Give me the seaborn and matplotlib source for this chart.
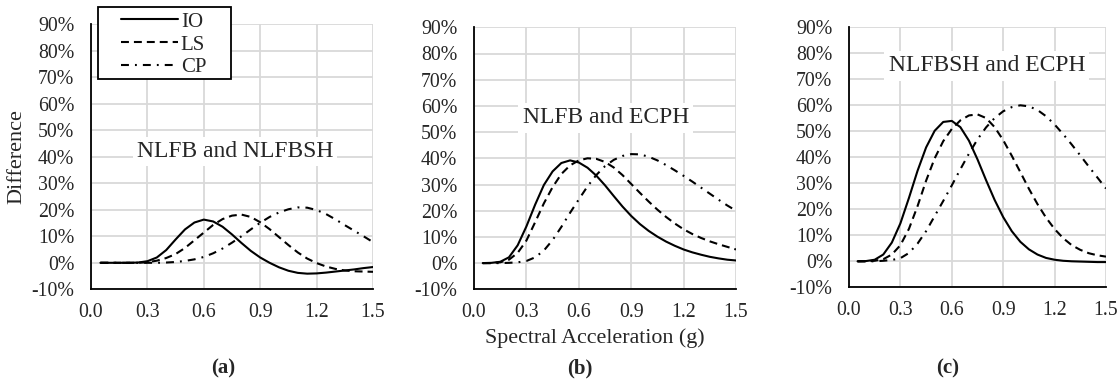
import numpy as np
import pandas as pd
import matplotlib
matplotlib.use("Agg")
import matplotlib.pyplot as plt
from matplotlib.ticker import MultipleLocator, FuncFormatter
from matplotlib.lines import Line2D
from matplotlib.patches import Rectangle
import seaborn as sns

sns.set_style("white")
plt.rcParams['font.family'] = ['Liberation Serif', 'DejaVu Serif']

# Spectral acceleration (g)
sa = [0.05, 0.10, 0.15, 0.20, 0.25, 0.30, 0.35, 0.40, 0.45, 0.50,
      0.55, 0.60, 0.65, 0.70, 0.75, 0.80, 0.85, 0.90, 0.95, 1.00,
      1.05, 1.10, 1.15, 1.20, 1.25, 1.30, 1.35, 1.40, 1.45, 1.50]

levels = ["IO", "LS", "CP"]

# (a) NLFB and NLFBSH  (difference in %)
a_io = [0, 0, 0, 0, 0.1, 0.6, 2.0, 4.8, 8.8, 12.6,
        15.2, 16.3, 15.6, 13.6, 10.7, 7.5, 4.5, 2.0, 0.0, -1.7,
        -3.0, -3.8, -4.1, -4.0, -3.7, -3.3, -2.9, -2.5, -2.0, -1.6]
a_ls = [0, 0, 0, 0, 0, 0.2, 0.8, 1.8, 3.3, 5.6,
        8.5, 11.4, 14.3, 16.5, 17.8, 18.2, 17.3, 15.3, 12.7, 9.7,
        6.7, 3.9, 1.6, -0.1, -1.4, -2.3, -2.9, -3.2, -3.3, -3.4]
a_cp = [0, 0, 0, 0, 0, 0, 0, 0.1, 0.3, 0.7,
        1.3, 2.2, 3.6, 5.4, 7.6, 10.0, 12.6, 15.1, 17.3, 19.0,
        20.2, 20.9, 20.8, 19.9, 18.4, 16.4, 14.2, 12.1, 10.0, 7.8]

# (b) NLFB and ECPH
b_io = [0, 0.1, 0.5, 2.2, 6.8, 14.0, 22.3, 29.8, 35.0, 38.2,
        39.2, 38.4, 36.4, 33.4, 29.7, 25.6, 21.6, 18.0, 14.9, 12.3,
        10.1, 8.2, 6.6, 5.2, 4.1, 3.2, 2.4, 1.8, 1.3, 1.0]
b_ls = [0, 0, 0.3, 1.3, 3.9, 8.6, 15.6, 22.8, 29.0, 34.0,
        37.3, 39.2, 40.0, 39.8, 38.6, 36.5, 33.6, 30.2, 26.8, 23.5,
        20.4, 17.6, 15.1, 12.9, 11.1, 9.6, 8.3, 7.2, 6.2, 5.2]
b_cp = [0, 0, 0, 0.1, 0.3, 0.8, 2.2, 4.8, 8.8, 13.8,
        19.2, 24.3, 29.3, 33.6, 37.0, 39.4, 40.9, 41.6, 41.5, 40.6,
        39.2, 37.4, 35.4, 33.3, 31.1, 28.8, 26.5, 24.2, 22.0, 20.0]

# (c) NLFBSH and ECPH
c_io = [0, 0.1, 0.6, 2.6, 7.2, 14.6, 24.4, 34.8, 43.8, 50.2,
        53.6, 54.0, 51.6, 46.4, 39.2, 31.2, 23.6, 17.0, 11.6, 7.5,
        4.6, 2.6, 1.3, 0.6, 0.2, 0.0, -0.1, -0.2, -0.3, -0.3]
c_ls = [0, 0, 0.2, 0.8, 2.6, 6.2, 12.5, 21.2, 31.0, 39.6,
        46.2, 50.9, 54.2, 56.1, 56.5, 55.1, 51.6, 46.6, 40.6, 34.3,
        27.9, 22.0, 16.8, 12.4, 8.9, 6.2, 4.4, 3.1, 2.3, 1.8]
c_cp = [0, 0, 0, 0.2, 0.5, 1.2, 3.2, 6.8, 11.6, 17.4,
        23.2, 29.2, 35.4, 41.4, 46.9, 51.5, 55.1, 57.7, 59.3, 60.0,
        59.6, 58.2, 55.8, 52.6, 48.9, 44.9, 40.7, 36.4, 32.2, 28.0]

titles = ["NLFB and NLFBSH", "NLFB and ECPH", "NLFBSH and ECPH"]
panel_labels = ["(a)", "(b)", "(c)"]
panels = [(a_io, a_ls, a_cp), (b_io, b_ls, b_cp), (c_io, c_ls, c_cp)]


def make_df(series):
    rows = []
    for lev, vals in zip(levels, series):
        for x, v in zip(sa, vals):
            rows.append({"Sa": x, "Diff": v / 100.0, "Level": lev})
    return pd.DataFrame(rows)


W, H = 1119, 384
fig = plt.figure(figsize=(W / 100, H / 100), dpi=100)

# axes boxes in pixels: left, right, top, bottom
boxes = [(91, 373, 24.3, 289.3), (474, 736, 27.3, 289.3), (849, 1106, 27.3, 287.3)]
title_pos = [(0.766, 0.42), (0.755, 0.554), (0.804, 0.752)]
label_x = [223, 580, 948]

LW = 1.5
dash_ls = (3.8, 2.4)
dash_cp = (3.8, 2.9, 0.9, 2.9)
dashes = {"IO": "", "LS": dash_ls, "CP": dash_cp}

axes = []
for i, (l, r, t, b) in enumerate(boxes):
    ax = fig.add_axes([l / W, (H - b) / H, (r - l) / W, (b - t) / H])
    axes.append(ax)
    df = make_df(panels[i])
    sns.lineplot(data=df, x="Sa", y="Diff", style="Level", style_order=levels,
                 dashes=dashes, color="black", linewidth=LW, ax=ax,
                 legend=False, sort=False)
    ax.set_xlim(0, 1.5)
    ax.set_ylim(-0.1, 0.9)
    ax.xaxis.set_major_locator(MultipleLocator(0.3))
    ax.xaxis.set_minor_locator(MultipleLocator(0.1))
    ax.yaxis.set_major_locator(MultipleLocator(0.1))
    ax.xaxis.set_major_formatter(FuncFormatter(lambda v, p: f"{v:.1f}"))
    ax.yaxis.set_major_formatter(FuncFormatter(lambda v, p: f"{round(v*100):d}%"))
    ax.grid(True, which="major", color="#d9d9d9", linewidth=1.3)
    ax.set_axisbelow(True)
    for s in ["top", "right"]:
        ax.spines[s].set_visible(False)
    for s in ["left", "bottom"]:
        ax.spines[s].set_color("black")
        ax.spines[s].set_linewidth(1.3)
    ax.tick_params(axis="x", which="both", direction="in", length=4, width=1.1,
                   color="black", labelsize=14.3, pad=10)
    ax.tick_params(axis="y", which="both", length=0, labelsize=14.3, pad=12)
    ax.set_xlabel("")
    ax.set_ylabel("")
    tx, ty = title_pos[i]
    ax.text(tx, ty, titles[i], fontsize=17, ha="center", va="center",
            bbox=dict(facecolor="white", edgecolor="none", pad=3), zorder=3)
    fig.text(label_x[i] / W, 1 - 368 / H, panel_labels[i], fontsize=15,
             fontweight="bold", ha="center", va="center")

axes[0].set_ylabel("Difference", fontsize=16, labelpad=4)
fig.text(595 / W, 1 - 338 / H, "Spectral Acceleration (g)", fontsize=15.8,
         ha="center", va="center")

# legend (frame drawn as a rectangle to get the wide side padding)
handles = [Line2D([], [], color="black", linewidth=LW, linestyle="-"),
           Line2D([], [], color="black", linewidth=LW, linestyle=(0, dash_ls)),
           Line2D([], [], color="black", linewidth=LW, linestyle=(0, dash_cp))]
leg = fig.legend(handles, levels, loc="upper left",
                 bbox_to_anchor=(121 / W, 1 - 12 / H), frameon=False,
                 fontsize=15, handlelength=2.75, handletextpad=0.12,
                 labelspacing=0.16, borderpad=0, borderaxespad=0)
fig.add_artist(Rectangle((97.5 / W, 1 - 79 / H), (231.5 - 97.5) / W, (79 - 7.3) / H,
                         transform=fig.transFigure, facecolor="white",
                         edgecolor="black", linewidth=1.3, zorder=2))
leg.set_zorder(3)

fig.savefig("out.png", dpi=100)
